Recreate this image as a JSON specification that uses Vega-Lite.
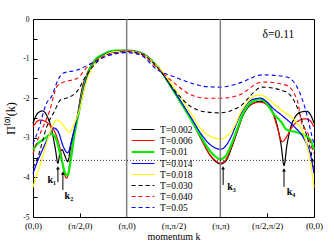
{
 "$schema": "https://vega.github.io/schema/vega-lite/v6.json",
 "width": 281, "height": 198,
 "autosize": {"type": "none"},
 "padding": {"left": 33, "top": 19, "right": 20, "bottom": 29},
 "config": {"view": {"stroke": "#000", "strokeWidth": 1}, "font": "Liberation Serif", "axis": {"labelOverlap": false, "labelFlush": false, "labelBound": false, "grid": false}},
 "datasets": {
  "curves": [
   {"T":"T=0.002","x":0,"y":-2.63},{"T":"T=0.002","x":0.05,"y":-2.38},{"T":"T=0.002","x":0.1,"y":-2.32},{"T":"T=0.002","x":0.15,"y":-2.45},{"T":"T=0.002","x":0.2,"y":-2.8},{"T":"T=0.002","x":0.24,"y":-3.3},{"T":"T=0.002","x":0.266,"y":-3.64},{"T":"T=0.002","x":0.29,"y":-3.35},{"T":"T=0.002","x":0.31,"y":-3.3},{"T":"T=0.002","x":0.34,"y":-3.45},{"T":"T=0.002","x":0.37,"y":-3.6},{"T":"T=0.002","x":0.41,"y":-3.1},{"T":"T=0.002","x":0.47,"y":-2.5},{"T":"T=0.002","x":0.52,"y":-1.8},{"T":"T=0.002","x":0.585,"y":-1.35},{"T":"T=0.002","x":0.64,"y":-1.1},{"T":"T=0.002","x":0.745,"y":-0.9},{"T":"T=0.002","x":0.87,"y":-0.82},{"T":"T=0.002","x":1.0,"y":-0.8},{"T":"T=0.002","x":1.14,"y":-0.85},{"T":"T=0.002","x":1.33,"y":-1.2},{"T":"T=0.002","x":1.51,"y":-1.85},{"T":"T=0.002","x":1.69,"y":-2.55},{"T":"T=0.002","x":1.8,"y":-3.05},{"T":"T=0.002","x":1.88,"y":-3.4},{"T":"T=0.002","x":1.95,"y":-3.6},{"T":"T=0.002","x":2.0,"y":-3.66},{"T":"T=0.002","x":2.06,"y":-3.58},{"T":"T=0.002","x":2.12,"y":-3.25},{"T":"T=0.002","x":2.18,"y":-2.85},{"T":"T=0.002","x":2.24,"y":-2.45},{"T":"T=0.002","x":2.3,"y":-2.22},{"T":"T=0.002","x":2.36,"y":-2.12},{"T":"T=0.002","x":2.43,"y":-2.08},{"T":"T=0.002","x":2.5,"y":-2.15},{"T":"T=0.002","x":2.56,"y":-2.35},{"T":"T=0.002","x":2.61,"y":-2.72},{"T":"T=0.002","x":2.65,"y":-3.2},{"T":"T=0.002","x":2.68,"y":-3.7},{"T":"T=0.002","x":2.71,"y":-3.2},{"T":"T=0.002","x":2.75,"y":-2.75},{"T":"T=0.002","x":2.8,"y":-2.47},{"T":"T=0.002","x":2.86,"y":-2.35},{"T":"T=0.002","x":2.92,"y":-2.33},{"T":"T=0.002","x":2.97,"y":-2.45},{"T":"T=0.002","x":3.0,"y":-2.63},

   {"T":"T=0.006","x":0,"y":-2.72},{"T":"T=0.006","x":0.075,"y":-2.55},{"T":"T=0.006","x":0.18,"y":-2.68},{"T":"T=0.006","x":0.25,"y":-2.95},{"T":"T=0.006","x":0.3,"y":-3.4},{"T":"T=0.006","x":0.33,"y":-3.85},{"T":"T=0.006","x":0.36,"y":-4.02},{"T":"T=0.006","x":0.39,"y":-3.7},{"T":"T=0.006","x":0.43,"y":-3.0},{"T":"T=0.006","x":0.48,"y":-2.4},{"T":"T=0.006","x":0.53,"y":-1.75},{"T":"T=0.006","x":0.59,"y":-1.32},{"T":"T=0.006","x":0.64,"y":-1.1},{"T":"T=0.006","x":0.75,"y":-0.9},{"T":"T=0.006","x":0.87,"y":-0.8},{"T":"T=0.006","x":1.0,"y":-0.79},{"T":"T=0.006","x":1.14,"y":-0.84},{"T":"T=0.006","x":1.33,"y":-1.2},{"T":"T=0.006","x":1.51,"y":-1.85},{"T":"T=0.006","x":1.69,"y":-2.55},{"T":"T=0.006","x":1.8,"y":-3.05},{"T":"T=0.006","x":1.88,"y":-3.4},{"T":"T=0.006","x":1.95,"y":-3.58},{"T":"T=0.006","x":2.0,"y":-3.64},{"T":"T=0.006","x":2.06,"y":-3.55},{"T":"T=0.006","x":2.12,"y":-3.22},{"T":"T=0.006","x":2.18,"y":-2.83},{"T":"T=0.006","x":2.24,"y":-2.43},{"T":"T=0.006","x":2.3,"y":-2.2},{"T":"T=0.006","x":2.36,"y":-2.12},{"T":"T=0.006","x":2.43,"y":-2.1},{"T":"T=0.006","x":2.5,"y":-2.18},{"T":"T=0.006","x":2.56,"y":-2.38},{"T":"T=0.006","x":2.61,"y":-2.75},{"T":"T=0.006","x":2.66,"y":-3.1},{"T":"T=0.006","x":2.7,"y":-3.0},{"T":"T=0.006","x":2.76,"y":-2.75},{"T":"T=0.006","x":2.83,"y":-2.58},{"T":"T=0.006","x":2.9,"y":-2.52},{"T":"T=0.006","x":2.95,"y":-2.55},{"T":"T=0.006","x":3.0,"y":-2.72},

   {"T":"T=0.01","x":0,"y":-3.3},{"T":"T=0.01","x":0.05,"y":-3.15},{"T":"T=0.01","x":0.12,"y":-3.03},{"T":"T=0.01","x":0.2,"y":-2.9},{"T":"T=0.01","x":0.25,"y":-3.05},{"T":"T=0.01","x":0.3,"y":-3.5},{"T":"T=0.01","x":0.35,"y":-3.92},{"T":"T=0.01","x":0.37,"y":-3.95},{"T":"T=0.01","x":0.4,"y":-3.6},{"T":"T=0.01","x":0.44,"y":-2.95},{"T":"T=0.01","x":0.49,"y":-2.35},{"T":"T=0.01","x":0.54,"y":-1.75},{"T":"T=0.01","x":0.6,"y":-1.3},{"T":"T=0.01","x":0.65,"y":-1.08},{"T":"T=0.01","x":0.76,"y":-0.88},{"T":"T=0.01","x":0.88,"y":-0.8},{"T":"T=0.01","x":1.0,"y":-0.8},{"T":"T=0.01","x":1.14,"y":-0.85},{"T":"T=0.01","x":1.33,"y":-1.21},{"T":"T=0.01","x":1.51,"y":-1.85},{"T":"T=0.01","x":1.69,"y":-2.55},{"T":"T=0.01","x":1.8,"y":-3.0},{"T":"T=0.01","x":1.88,"y":-3.3},{"T":"T=0.01","x":1.95,"y":-3.48},{"T":"T=0.01","x":2.0,"y":-3.54},{"T":"T=0.01","x":2.06,"y":-3.45},{"T":"T=0.01","x":2.12,"y":-3.15},{"T":"T=0.01","x":2.18,"y":-2.78},{"T":"T=0.01","x":2.24,"y":-2.4},{"T":"T=0.01","x":2.3,"y":-2.17},{"T":"T=0.01","x":2.36,"y":-2.07},{"T":"T=0.01","x":2.43,"y":-2.03},{"T":"T=0.01","x":2.5,"y":-2.15},{"T":"T=0.01","x":2.56,"y":-2.37},{"T":"T=0.01","x":2.65,"y":-2.6},{"T":"T=0.01","x":2.71,"y":-2.8},{"T":"T=0.01","x":2.8,"y":-2.85},{"T":"T=0.01","x":2.89,"y":-2.93},{"T":"T=0.01","x":2.96,"y":-3.05},{"T":"T=0.01","x":3.0,"y":-3.3},

   {"T":"T=0.014","x":0,"y":-3.9},{"T":"T=0.014","x":0.04,"y":-3.64},{"T":"T=0.014","x":0.1,"y":-3.31},{"T":"T=0.014","x":0.16,"y":-3.0},{"T":"T=0.014","x":0.22,"y":-2.75},{"T":"T=0.014","x":0.27,"y":-2.85},{"T":"T=0.014","x":0.32,"y":-3.2},{"T":"T=0.014","x":0.37,"y":-3.38},{"T":"T=0.014","x":0.41,"y":-3.1},{"T":"T=0.014","x":0.46,"y":-2.6},{"T":"T=0.014","x":0.51,"y":-2.1},{"T":"T=0.014","x":0.56,"y":-1.6},{"T":"T=0.014","x":0.62,"y":-1.25},{"T":"T=0.014","x":0.68,"y":-1.05},{"T":"T=0.014","x":0.78,"y":-0.88},{"T":"T=0.014","x":0.9,"y":-0.81},{"T":"T=0.014","x":1.0,"y":-0.8},{"T":"T=0.014","x":1.14,"y":-0.85},{"T":"T=0.014","x":1.33,"y":-1.21},{"T":"T=0.014","x":1.51,"y":-1.83},{"T":"T=0.014","x":1.69,"y":-2.5},{"T":"T=0.014","x":1.8,"y":-2.92},{"T":"T=0.014","x":1.88,"y":-3.15},{"T":"T=0.014","x":1.95,"y":-3.26},{"T":"T=0.014","x":2.0,"y":-3.29},{"T":"T=0.014","x":2.06,"y":-3.2},{"T":"T=0.014","x":2.12,"y":-2.95},{"T":"T=0.014","x":2.18,"y":-2.6},{"T":"T=0.014","x":2.24,"y":-2.3},{"T":"T=0.014","x":2.3,"y":-2.1},{"T":"T=0.014","x":2.36,"y":-2.02},{"T":"T=0.014","x":2.43,"y":-2.0},{"T":"T=0.014","x":2.5,"y":-2.1},{"T":"T=0.014","x":2.56,"y":-2.25},{"T":"T=0.014","x":2.65,"y":-2.42},{"T":"T=0.014","x":2.79,"y":-2.72},{"T":"T=0.014","x":2.9,"y":-3.05},{"T":"T=0.014","x":2.96,"y":-3.4},{"T":"T=0.014","x":3.0,"y":-3.9},

   {"T":"T=0.018","x":0,"y":-4.25},{"T":"T=0.018","x":0.03,"y":-4.0},{"T":"T=0.018","x":0.075,"y":-3.69},{"T":"T=0.018","x":0.13,"y":-3.25},{"T":"T=0.018","x":0.18,"y":-2.88},{"T":"T=0.018","x":0.255,"y":-2.55},{"T":"T=0.018","x":0.31,"y":-2.65},{"T":"T=0.018","x":0.36,"y":-2.8},{"T":"T=0.018","x":0.39,"y":-2.86},{"T":"T=0.018","x":0.44,"y":-2.65},{"T":"T=0.018","x":0.5,"y":-2.25},{"T":"T=0.018","x":0.55,"y":-1.75},{"T":"T=0.018","x":0.6,"y":-1.38},{"T":"T=0.018","x":0.66,"y":-1.12},{"T":"T=0.018","x":0.76,"y":-0.92},{"T":"T=0.018","x":0.88,"y":-0.82},{"T":"T=0.018","x":1.0,"y":-0.81},{"T":"T=0.018","x":1.14,"y":-0.86},{"T":"T=0.018","x":1.33,"y":-1.2},{"T":"T=0.018","x":1.51,"y":-1.75},{"T":"T=0.018","x":1.69,"y":-2.4},{"T":"T=0.018","x":1.8,"y":-2.8},{"T":"T=0.018","x":1.9,"y":-2.97},{"T":"T=0.018","x":2.0,"y":-3.03},{"T":"T=0.018","x":2.07,"y":-2.95},{"T":"T=0.018","x":2.15,"y":-2.72},{"T":"T=0.018","x":2.22,"y":-2.35},{"T":"T=0.018","x":2.29,"y":-2.1},{"T":"T=0.018","x":2.36,"y":-1.95},{"T":"T=0.018","x":2.43,"y":-1.92},{"T":"T=0.018","x":2.5,"y":-2.0},{"T":"T=0.018","x":2.56,"y":-2.12},{"T":"T=0.018","x":2.65,"y":-2.3},{"T":"T=0.018","x":2.79,"y":-2.55},{"T":"T=0.018","x":2.9,"y":-2.98},{"T":"T=0.018","x":2.96,"y":-3.6},{"T":"T=0.018","x":3.0,"y":-4.25},

   {"T":"T=0.030","x":0,"y":-3.75},{"T":"T=0.030","x":0.05,"y":-3.5},{"T":"T=0.030","x":0.15,"y":-2.7},{"T":"T=0.030","x":0.235,"y":-2.3},{"T":"T=0.030","x":0.29,"y":-2.05},{"T":"T=0.030","x":0.39,"y":-1.97},{"T":"T=0.030","x":0.48,"y":-1.8},{"T":"T=0.030","x":0.55,"y":-1.5},{"T":"T=0.030","x":0.64,"y":-1.2},{"T":"T=0.030","x":0.75,"y":-0.95},{"T":"T=0.030","x":0.88,"y":-0.85},{"T":"T=0.030","x":1.0,"y":-0.82},{"T":"T=0.030","x":1.14,"y":-0.87},{"T":"T=0.030","x":1.33,"y":-1.22},{"T":"T=0.030","x":1.51,"y":-1.8},{"T":"T=0.030","x":1.69,"y":-2.22},{"T":"T=0.030","x":1.86,"y":-2.35},{"T":"T=0.030","x":2.0,"y":-2.37},{"T":"T=0.030","x":2.2,"y":-2.22},{"T":"T=0.030","x":2.45,"y":-1.72},{"T":"T=0.030","x":2.7,"y":-1.84},{"T":"T=0.030","x":2.8,"y":-2.12},{"T":"T=0.030","x":2.88,"y":-2.63},{"T":"T=0.030","x":2.97,"y":-3.38},{"T":"T=0.030","x":3.0,"y":-3.75},

   {"T":"T=0.040","x":0,"y":-3.4},{"T":"T=0.040","x":0.05,"y":-3.05},{"T":"T=0.040","x":0.18,"y":-2.3},{"T":"T=0.040","x":0.255,"y":-1.7},{"T":"T=0.040","x":0.32,"y":-1.6},{"T":"T=0.040","x":0.47,"y":-1.5},{"T":"T=0.040","x":0.585,"y":-1.2},{"T":"T=0.040","x":0.75,"y":-0.95},{"T":"T=0.040","x":0.88,"y":-0.86},{"T":"T=0.040","x":1.0,"y":-0.83},{"T":"T=0.040","x":1.14,"y":-0.88},{"T":"T=0.040","x":1.33,"y":-1.25},{"T":"T=0.040","x":1.51,"y":-1.62},{"T":"T=0.040","x":1.69,"y":-1.92},{"T":"T=0.040","x":1.86,"y":-2.0},{"T":"T=0.040","x":2.0,"y":-2.0},{"T":"T=0.040","x":2.2,"y":-1.92},{"T":"T=0.040","x":2.45,"y":-1.59},{"T":"T=0.040","x":2.7,"y":-1.67},{"T":"T=0.040","x":2.82,"y":-2.05},{"T":"T=0.040","x":2.88,"y":-2.72},{"T":"T=0.040","x":2.93,"y":-2.85},{"T":"T=0.040","x":2.97,"y":-3.2},{"T":"T=0.040","x":3.0,"y":-3.4},

   {"T":"T=0.05","x":0,"y":-3.15},{"T":"T=0.05","x":0.05,"y":-2.85},{"T":"T=0.05","x":0.15,"y":-2.1},{"T":"T=0.05","x":0.2,"y":-1.95},{"T":"T=0.05","x":0.266,"y":-1.54},{"T":"T=0.05","x":0.32,"y":-1.37},{"T":"T=0.05","x":0.47,"y":-1.29},{"T":"T=0.05","x":0.64,"y":-1.1},{"T":"T=0.05","x":0.8,"y":-0.93},{"T":"T=0.05","x":0.9,"y":-0.87},{"T":"T=0.05","x":1.0,"y":-0.85},{"T":"T=0.05","x":1.14,"y":-0.9},{"T":"T=0.05","x":1.33,"y":-1.29},{"T":"T=0.05","x":1.51,"y":-1.46},{"T":"T=0.05","x":1.69,"y":-1.62},{"T":"T=0.05","x":1.86,"y":-1.71},{"T":"T=0.05","x":2.0,"y":-1.72},{"T":"T=0.05","x":2.2,"y":-1.62},{"T":"T=0.05","x":2.45,"y":-1.41},{"T":"T=0.05","x":2.7,"y":-1.46},{"T":"T=0.05","x":2.82,"y":-1.72},{"T":"T=0.05","x":2.93,"y":-2.47},{"T":"T=0.05","x":2.98,"y":-2.98},{"T":"T=0.05","x":3.0,"y":-3.15}
  ],
  "arrows": [
   {"x":0.266,"y":-3.76,"y2":-4.12},
   {"x":0.319,"y":-3.89,"y2":-4.32},
   {"x":2.03,"y":-3.76,"y2":-4.19},
   {"x":2.68,"y":-3.81,"y2":-4.24}
  ],
  "labels": [
   {"x":0.2,"y":-4.07,"t":"k₁","s":10,"w":"bold"},
   {"x":0.383,"y":-4.47,"t":"k₂","s":10,"w":"bold"},
   {"x":2.12,"y":-4.24,"t":"k₃","s":10,"w":"bold"},
   {"x":2.755,"y":-4.37,"t":"k₄","s":10,"w":"bold"}
  ]
 },
 "layer": [
  {"data": {"name": "curves"},
   "mark": {"type": "line", "interpolate": "monotone"},
   "encoding": {
    "x": {"field": "x", "type": "quantitative", "scale": {"domain": [0, 3], "nice": false, "zero": false},
     "axis": {"values": [0, 0.5, 1, 1.5, 2, 2.5, 3],
      "labelExpr": "['(0,0)','(π/2,0)','(π,0)','(π,π/2)','(π,π)','(π/2,π/2)','(0,0)'][round(datum.value*2)]",
      "title": "momentum k", "domain": false, "tickSize": -4, "tickColor": "#000",
      "tickOpacity": {"condition": {"test": "datum.value == 0.5 || datum.value == 2.5", "value": 1}, "value": 0},
      "labelFontSize": 9, "labelColor": "#000", "labelPadding": 8,
      "titleFontSize": 10, "titleFontWeight": "normal", "titleColor": "#000", "titlePadding": 1}},
    "y": {"field": "y", "type": "quantitative", "scale": {"domain": [-5, 0], "nice": false, "zero": false},
     "axis": {"values": [-5, -4.5, -4, -3.5, -3, -2.5, -2, -1.5, -1, -0.5, 0],
      "labelExpr": "datum.value == round(datum.value) ? ('' + datum.value) : ''",
      "title": "Π⁽⁰⁾(k)", "domain": false, "tickSize": -4, "tickColor": "#000",
      "labelFontSize": 7.5, "labelColor": "#000", "labelPadding": 8,
      "titleFontSize": 12, "titleFontWeight": "normal", "titleColor": "#000", "titlePadding": 5}},
    "color": {"field": "T", "type": "nominal",
     "scale": {"domain": ["T=0.002","T=0.006","T=0.01","T=0.014","T=0.018","T=0.030","T=0.040","T=0.05"],
      "range": ["#000000","#ff0000","#00ee00","#0000ff","#ffff00","#000000","#ff0000","#0000ff"]},
     "legend": {"orient": "none", "legendX": 103, "legendY": 104, "title": null, "symbolType": "M-2,0H2", "symbolSize": 130, "labelFontSize": 9.5, "labelColor": "#000", "rowPadding": 0, "labelOffset": 10, "padding": 0}},
    "strokeDash": {"field": "T", "type": "nominal",
     "scale": {"domain": ["T=0.002","T=0.006","T=0.01","T=0.014","T=0.018","T=0.030","T=0.040","T=0.05"],
      "range": [[1,0],[1,0],[1,0],[1,0],[1,0],[4,3],[4,3],[4,3]]},
     "legend": {"orient": "none", "legendX": 103, "legendY": 104, "title": null, "symbolType": "M-2,0H2", "symbolSize": 130, "labelFontSize": 9.5, "labelColor": "#000", "rowPadding": 0, "labelOffset": 10, "padding": 0}},
    "strokeWidth": {"field": "T", "type": "ordinal",
     "scale": {"type": "ordinal", "domain": ["T=0.002","T=0.006","T=0.01","T=0.014","T=0.018","T=0.030","T=0.040","T=0.05"],
      "range": [1.2,1.2,2.2,1.2,1.2,1.1,1.1,1.1]},
     "legend": {"orient": "none", "legendX": 103, "legendY": 104, "title": null, "symbolType": "M-2,0H2", "symbolSize": 130, "labelFontSize": 9.5, "labelColor": "#000", "rowPadding": 0, "labelOffset": 10, "padding": 0}}
   }},
  {"data": {"values": [{"x": 1}, {"x": 2}]},
   "mark": {"type": "rule", "color": "#808080", "strokeWidth": 1.5},
   "encoding": {"x": {"field": "x", "type": "quantitative",
     "axis": {"values": [0, 0.5, 1, 1.5, 2, 2.5, 3],
      "labelExpr": "['(0,0)','(π/2,0)','(π,0)','(π,π/2)','(π,π)','(π/2,π/2)','(0,0)'][round(datum.value*2)]",
      "title": "momentum k", "domain": false, "tickSize": -4, "tickColor": "#000",
      "tickOpacity": {"condition": {"test": "datum.value == 0.5 || datum.value == 2.5", "value": 1}, "value": 0},
      "labelFontSize": 9, "labelColor": "#000", "labelPadding": 8,
      "titleFontSize": 10, "titleFontWeight": "normal", "titleColor": "#000", "titlePadding": 1}}}},
  {"data": {"values": [{"y": -3.57}]},
   "mark": {"type": "rule", "color": "#000", "strokeDash": [1, 2], "strokeWidth": 0.8},
   "encoding": {"y": {"field": "y", "type": "quantitative",
     "axis": {"values": [-5, -4.5, -4, -3.5, -3, -2.5, -2, -1.5, -1, -0.5, 0],
      "labelExpr": "datum.value == round(datum.value) ? ('' + datum.value) : ''",
      "title": "Π⁽⁰⁾(k)", "domain": false, "tickSize": -4, "tickColor": "#000",
      "labelFontSize": 7.5, "labelColor": "#000", "labelPadding": 8,
      "titleFontSize": 12, "titleFontWeight": "normal", "titleColor": "#000", "titlePadding": 5}}}},
  {"data": {"name": "arrows"},
   "mark": {"type": "rule", "color": "#000", "strokeWidth": 1},
   "encoding": {
    "x": {"field": "x", "type": "quantitative",
     "axis": {"values": [0, 0.5, 1, 1.5, 2, 2.5, 3],
      "labelExpr": "['(0,0)','(π/2,0)','(π,0)','(π,π/2)','(π,π)','(π/2,π/2)','(0,0)'][round(datum.value*2)]",
      "title": "momentum k", "domain": false, "tickSize": -4, "tickColor": "#000",
      "tickOpacity": {"condition": {"test": "datum.value == 0.5 || datum.value == 2.5", "value": 1}, "value": 0},
      "labelFontSize": 9, "labelColor": "#000", "labelPadding": 8,
      "titleFontSize": 10, "titleFontWeight": "normal", "titleColor": "#000", "titlePadding": 1}},
    "y": {"field": "y", "type": "quantitative",
     "axis": {"values": [-5, -4.5, -4, -3.5, -3, -2.5, -2, -1.5, -1, -0.5, 0],
      "labelExpr": "datum.value == round(datum.value) ? ('' + datum.value) : ''",
      "title": "Π⁽⁰⁾(k)", "domain": false, "tickSize": -4, "tickColor": "#000",
      "labelFontSize": 7.5, "labelColor": "#000", "labelPadding": 8,
      "titleFontSize": 12, "titleFontWeight": "normal", "titleColor": "#000", "titlePadding": 5}},
    "y2": {"field": "y2"}}},
  {"data": {"name": "arrows"},
   "mark": {"type": "point", "shape": "triangle-up", "filled": true, "color": "#000", "size": 14, "opacity": 1},
   "encoding": {
    "x": {"field": "x", "type": "quantitative",
     "axis": {"values": [0, 0.5, 1, 1.5, 2, 2.5, 3],
      "labelExpr": "['(0,0)','(π/2,0)','(π,0)','(π,π/2)','(π,π)','(π/2,π/2)','(0,0)'][round(datum.value*2)]",
      "title": "momentum k", "domain": false, "tickSize": -4, "tickColor": "#000",
      "tickOpacity": {"condition": {"test": "datum.value == 0.5 || datum.value == 2.5", "value": 1}, "value": 0},
      "labelFontSize": 9, "labelColor": "#000", "labelPadding": 8,
      "titleFontSize": 10, "titleFontWeight": "normal", "titleColor": "#000", "titlePadding": 1}},
    "y": {"field": "y", "type": "quantitative",
     "axis": {"values": [-5, -4.5, -4, -3.5, -3, -2.5, -2, -1.5, -1, -0.5, 0],
      "labelExpr": "datum.value == round(datum.value) ? ('' + datum.value) : ''",
      "title": "Π⁽⁰⁾(k)", "domain": false, "tickSize": -4, "tickColor": "#000",
      "labelFontSize": 7.5, "labelColor": "#000", "labelPadding": 8,
      "titleFontSize": 12, "titleFontWeight": "normal", "titleColor": "#000", "titlePadding": 5}}}},
  {"data": {"name": "labels"},
   "mark": {"type": "text", "fontSize": 10, "fontWeight": "bold", "color": "#000", "align": "center", "baseline": "middle"},
   "encoding": {
    "x": {"field": "x", "type": "quantitative",
     "axis": {"values": [0, 0.5, 1, 1.5, 2, 2.5, 3],
      "labelExpr": "['(0,0)','(π/2,0)','(π,0)','(π,π/2)','(π,π)','(π/2,π/2)','(0,0)'][round(datum.value*2)]",
      "title": "momentum k", "domain": false, "tickSize": -4, "tickColor": "#000",
      "tickOpacity": {"condition": {"test": "datum.value == 0.5 || datum.value == 2.5", "value": 1}, "value": 0},
      "labelFontSize": 9, "labelColor": "#000", "labelPadding": 8,
      "titleFontSize": 10, "titleFontWeight": "normal", "titleColor": "#000", "titlePadding": 1}},
    "y": {"field": "y", "type": "quantitative",
     "axis": {"values": [-5, -4.5, -4, -3.5, -3, -2.5, -2, -1.5, -1, -0.5, 0],
      "labelExpr": "datum.value == round(datum.value) ? ('' + datum.value) : ''",
      "title": "Π⁽⁰⁾(k)", "domain": false, "tickSize": -4, "tickColor": "#000",
      "labelFontSize": 7.5, "labelColor": "#000", "labelPadding": 8,
      "titleFontSize": 12, "titleFontWeight": "normal", "titleColor": "#000", "titlePadding": 5}},
    "text": {"field": "t"}}},
  {"data": {"values": [{"x": 2.62, "y": -0.4, "t": "δ=0.11"}]},
   "mark": {"type": "text", "fontSize": 11.5, "color": "#000", "align": "center", "baseline": "middle"},
   "encoding": {
    "x": {"field": "x", "type": "quantitative",
     "axis": {"values": [0, 0.5, 1, 1.5, 2, 2.5, 3],
      "labelExpr": "['(0,0)','(π/2,0)','(π,0)','(π,π/2)','(π,π)','(π/2,π/2)','(0,0)'][round(datum.value*2)]",
      "title": "momentum k", "domain": false, "tickSize": -4, "tickColor": "#000",
      "tickOpacity": {"condition": {"test": "datum.value == 0.5 || datum.value == 2.5", "value": 1}, "value": 0},
      "labelFontSize": 9, "labelColor": "#000", "labelPadding": 8,
      "titleFontSize": 10, "titleFontWeight": "normal", "titleColor": "#000", "titlePadding": 1}},
    "y": {"field": "y", "type": "quantitative",
     "axis": {"values": [-5, -4.5, -4, -3.5, -3, -2.5, -2, -1.5, -1, -0.5, 0],
      "labelExpr": "datum.value == round(datum.value) ? ('' + datum.value) : ''",
      "title": "Π⁽⁰⁾(k)", "domain": false, "tickSize": -4, "tickColor": "#000",
      "labelFontSize": 7.5, "labelColor": "#000", "labelPadding": 8,
      "titleFontSize": 12, "titleFontWeight": "normal", "titleColor": "#000", "titlePadding": 5}},
    "text": {"field": "t"}}}
 ]
}
